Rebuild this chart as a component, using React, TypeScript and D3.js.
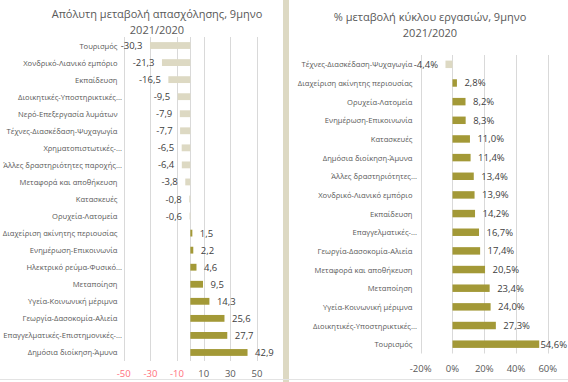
import React from "react";
import * as d3 from "d3";

// Left chart: absolute change in employment
const leftCategories = [
  "Τουρισμός",
  "Χονδρικό-Λιανικό εμπόριο",
  "Εκπαίδευση",
  "Διοικητικές-Υποστηρικτικές...",
  "Νερό-Επεξεργασία λυμάτων",
  "Τέχνες-Διασκέδαση-Ψυχαγωγία",
  "Χρηματοπιστωτικές-...",
  "Άλλες δραστηριότητες παροχής...",
  "Μεταφορά και αποθήκευση",
  "Κατασκευές",
  "Ορυχεία-Λατομεία",
  "Διαχείριση ακίνητης περιουσίας",
  "Ενημέρωση-Επικοινωνία",
  "Ηλεκτρικό ρεύμα-Φυσικό...",
  "Μεταποίηση",
  "Υγεία-Κοινωνική μέριμνα",
  "Γεωργία-Δασοκομία-Αλιεία",
  "Επαγγελματικές-Επιστημονικές-...",
  "Δημόσια διοίκηση-Άμυνα",
];
const leftValues = [
  -30.3, -21.3, -16.5, -9.5, -7.9, -7.7, -6.5, -6.4, -3.8, -0.8, -0.6, 1.5, 2.2,
  4.6, 9.5, 14.3, 25.6, 27.7, 42.9,
];
const leftTicks = [-50, -30, -10, 10, 30, 50];
const leftTitle = ["Απόλυτη μεταβολή απασχόλησης, 9μηνο", "2021/2020"];

// Right chart: % change in turnover
const rightCategories = [
  "Τέχνες-Διασκέδαση-Ψυχαγωγία",
  "Διαχείριση ακίνητης περιουσίας",
  "Ορυχεία-Λατομεία",
  "Ενημέρωση-Επικοινωνία",
  "Κατασκευές",
  "Δημόσια διοίκηση-Άμυνα",
  "Άλλες δραστηριότητες...",
  "Χονδρικό-Λιανικό εμπόριο",
  "Εκπαίδευση",
  "Επαγγελματικές-...",
  "Γεωργία-Δασοκομία-Αλιεία",
  "Μεταφορά και αποθήκευση",
  "Μεταποίηση",
  "Υγεία-Κοινωνική μέριμνα",
  "Διοικητικές-Υποστηρικτικές...",
  "Τουρισμός",
];
const rightValues = [
  -4.4, 2.8, 8.2, 8.3, 11.0, 11.4, 13.4, 13.9, 14.2, 16.7, 17.4, 20.5, 23.4,
  24.0, 27.3, 54.6,
];
const rightTicks = [-20, 0, 20, 40, 60];
const rightTitle = ["% μεταβολή κύκλου εργασιών, 9μηνο", "2021/2020"];

const FONT = "'Open Sans', 'Noto Sans', sans-serif";
const POS = "#a39937";
const NEG = "#ddd9c3";
const GRID = "#d9d9d9";
const TEXT = "#595959";
const VAL = "#404040";

type PanelProps = {
  categories: string[];
  values: number[];
  ticks: number[];
  domain: [number, number];
  xRange: [number, number];
  yRange: [number, number];
  title: string[];
  titleX: number;
  titleY: [number, number];
  labelX: number;
  tickY: number;
  maxX: number;
  fmt: (v: number) => string;
  tickFmt: (v: number) => string;
  tickColor: (v: number) => string;
  zeroLine: boolean;
};

function Panel(p: PanelProps) {
  const x = d3.scaleLinear().domain(p.domain).range(p.xRange);
  const y = d3
    .scaleBand<string>()
    .domain(p.categories)
    .range(p.yRange)
    .paddingInner(0.6)
    .paddingOuter(0.3);
  const gridTop = p.yRange[0];
  const gridBottom = p.yRange[1];
  return (
    <g>
      {p.title.map((t, i) => (
        <text
          key={i}
          x={p.titleX}
          y={p.titleY[i]}
          textAnchor="middle"
          dominantBaseline="central"
          fontSize={11}
          fill={TEXT}
        >
          {t}
        </text>
      ))}
      {p.ticks.map((t) => (
        <line
          key={"g" + t}
          x1={Math.round(x(t)) + 0.5}
          x2={Math.round(x(t)) + 0.5}
          y1={gridTop}
          y2={gridBottom}
          stroke={GRID}
          strokeWidth={1}
        />
      ))}
      {p.zeroLine && (
        <line
          x1={Math.round(x(0)) + 0.5}
          x2={Math.round(x(0)) + 0.5}
          y1={gridTop}
          y2={gridBottom}
          stroke={GRID}
          strokeWidth={1}
        />
      )}
      {p.categories.map((c, i) => {
        const v = p.values[i];
        const cy = (y(c) as number) + y.bandwidth() / 2;
        const x0 = x(Math.min(0, v));
        const x1 = x(Math.max(0, v));
        const ell = c.endsWith("...");
        const label = p.fmt(v);
        const estW = label.length * 5.6;
        let lx = v < 0 ? x0 - 7.5 : x1 + 7.5;
        let anchor = v < 0 ? "end" : "start";
        if (v >= 0 && lx + estW > p.maxX) {
          lx = p.maxX;
          anchor = "end";
        }
        return (
          <g key={c}>
            <rect
              x={x0}
              y={y(c)}
              width={Math.max(x1 - x0, 0.8)}
              height={y.bandwidth()}
              fill={v < 0 ? NEG : POS}
            />
            <text
              x={p.labelX + (ell ? 4.5 : 0)}
              y={cy}
              textAnchor="end"
              dominantBaseline="central"
              fontSize={7.6}
              fill={TEXT}
            >
              {c}
            </text>
            <text
              x={lx}
              y={cy}
              textAnchor={anchor}
              dominantBaseline="central"
              fontSize={9.5}
              fill={VAL}
            >
              {label}
            </text>
          </g>
        );
      })}
      {p.ticks.map((t) => (
        <text
          key={"t" + t}
          x={x(t)}
          y={p.tickY}
          textAnchor="middle"
          dominantBaseline="central"
          fontSize={9.5}
          fill={p.tickColor(t)}
        >
          {p.tickFmt(t)}
        </text>
      ))}
    </g>
  );
}

const comma1 = (v: number) => d3.format(".1f")(v).replace(".", ",").replace("−", "-");

export default function App() {
  return (
    <svg
      width={568}
      height={382}
      style={{ position: "absolute", left: 0, top: 0, fontFamily: FONT, background: "#fff" }}
    >
      <rect x={0} y={0} width={568} height={382} fill="#fff" />
      <rect x={283} y={0} width={6} height={382} fill={NEG} />
      <line x1={0} x2={568} y1={379.5} y2={379.5} stroke="#e3e3e3" />
      <Panel
        categories={leftCategories}
        values={leftValues}
        ticks={leftTicks}
        domain={[-50, 50]}
        xRange={[123.7, 257]}
        yRange={[37, 361]}
        title={leftTitle}
        titleX={157}
        titleY={[13.5, 29.5]}
        labelX={117.5}
        tickY={373.5}
        maxX={281}
        fmt={comma1}
        tickFmt={(t) => String(t)}
        tickColor={(t) => (t < 0 ? "#ff6f7d" : TEXT)}
        zeroLine={true}
      />
      <Panel
        categories={rightCategories}
        values={rightValues}
        ticks={rightTicks}
        domain={[-20, 60]}
        xRange={[420.7, 547.8]}
        yRange={[55, 353.5]}
        title={rightTitle}
        titleX={430}
        titleY={[16, 32.5]}
        labelX={412.5}
        tickY={368.5}
        maxX={567}
        fmt={(v) => comma1(v) + "%"}
        tickFmt={(t) => t + "%"}
        tickColor={() => TEXT}
        zeroLine={false}
      />
    </svg>
  );
}
